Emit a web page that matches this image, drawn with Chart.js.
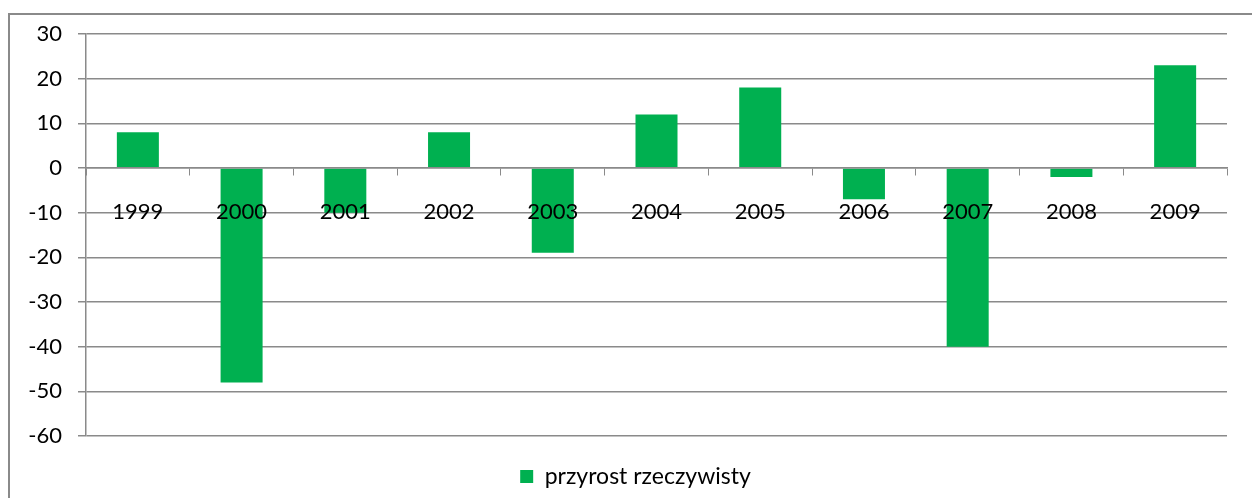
<!DOCTYPE html>
<html>
<head>
<meta charset="utf-8">
<script src="https://cdn.jsdelivr.net/npm/chart.js@4/dist/chart.umd.min.js"></script>
<style>
  html, body { margin: 0; padding: 0; background: #fff; overflow: hidden; }
  #wrap { position: relative; width: 1252px; height: 498px; }
</style>
</head>
<body>
<div id="wrap"><canvas id="chart"></canvas></div>
<script>
// dane z wykresu
const years = ['1999', '2000', '2001', '2002', '2003', '2004', '2005', '2006', '2007', '2008', '2009'];
const przyrost = [8, -48, -10, 8, -19, 12, 18, -7, -40, -2, 23];
const yTicks = [30, 20, 10, 0, -10, -20, -30, -40, -50, -60];

const FONT = 'Lato, "Open Sans", sans-serif';
const GRAY = '#8a8a8a';

// ramka wokół wykresu + legenda wyśrodkowana względem obszaru wykresu
const frame = {
    id: 'frame',
    afterLayout(chart) {
        chart.legend.left = chart.chartArea.left - 42;
    },
    beforeDraw(chart) {
        const ctx = chart.ctx;
        ctx.save();
        ctx.strokeStyle = GRAY;
        ctx.lineWidth = 2;
        ctx.strokeRect(9, 14, 1260, 600);
        ctx.restore();
    }
};

new Chart(document.getElementById('chart'), {
    type: 'bar',
    data: {
        labels: years,
        datasets: [{
            label: 'przyrost rzeczywisty',
            data: przyrost,
            backgroundColor: '#00B050',
            borderWidth: 0,
            barPercentage: 0.405,
            categoryPercentage: 1
        }]
    },
    options: {
        responsive: true,
        maintainAspectRatio: false,
        animation: false,
        layout: { padding: { top: 34, right: 25, left: 0, bottom: 0 } },
        plugins: {
            legend: {
                position: 'bottom',
                labels: {
                    boxWidth: 13,
                    boxHeight: 13,
                    padding: 29,
                    color: '#000',
                    font: { family: FONT, size: 23 }
                }
            },
            tooltip: { enabled: false }
        },
        scales: {
            x: {
                position: { y: 0 },
                grid: {
                    drawOnChartArea: false,
                    drawTicks: true,
                    tickLength: 7,
                    color: GRAY,
                    offset: true,
                    z: 1
                },
                border: { display: true, color: GRAY, width: 1.5, z: 1 },
                ticks: {
                    color: '#000',
                    padding: 24,
                    autoSkip: false,
                    maxRotation: 0,
                    z: 2,
                    font: { family: FONT, size: 22 }
                }
            },
            y: {
                min: -60,
                max: 30,
                afterFit: scale => { scale.width = 86; },
                afterBuildTicks: scale => { scale.ticks = yTicks.map(v => ({ value: v })); },
                grid: { color: GRAY, lineWidth: 1.5, tickLength: 8 },
                border: { display: true, color: GRAY, width: 1.5 },
                ticks: {
                    stepSize: 10,
                    color: '#000',
                    padding: 16,
                    font: { family: FONT, size: 22 }
                }
            }
        }
    },
    plugins: [frame]
});
</script>
</body>
</html>
